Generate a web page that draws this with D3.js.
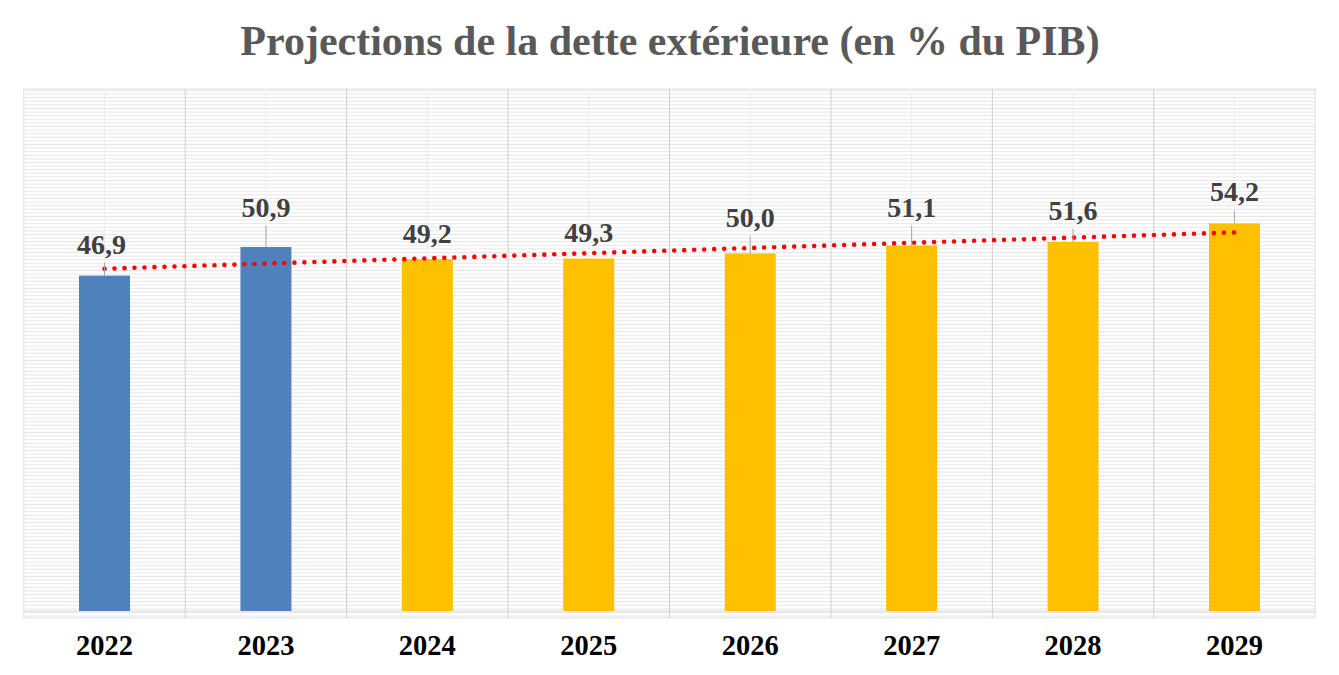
<!DOCTYPE html>
<html>
<head>
<meta charset="utf-8">
<script src="https://cdn.jsdelivr.net/npm/d3@7"></script>
<style>
  body { margin: 0; background: #fff; }
  svg { display: block; }
</style>
</head>
<body>
<svg width="1339" height="675"></svg>
<script>
// donnees
var annees = ["2022", "2023", "2024", "2025", "2026", "2027", "2028", "2029"];
var dette = [46.9, 50.9, 49.2, 49.3, 50.0, 51.1, 51.6, 54.2];
var couleurs = ["#4F81BD", "#4F81BD", "#FFC000", "#FFC000", "#FFC000", "#FFC000", "#FFC000", "#FFC000"];
var titre = "Projections de la dette extérieure (en % du PIB)";

function dessiner() {
  var svg = d3.select("svg"),
      left = 23.8, right = 1315.2, top = 89, base = 611, bottom = 618;

  // ecart (px) entre le haut de la barre et la ligne de base de l'etiquette
  var ecartEtiquette = [22, 30, 16, 16, 26, 29, 22, 22];

  var x = d3.scaleBand().domain(annees).range([left, right]).paddingInner(0).paddingOuter(0);
  var y = d3.scaleLinear().domain([0, 73]).range([base, top]);
  var barW = x.bandwidth() * 0.316;
  var cx = function(d) { return x(d) + x.bandwidth() / 2; };

  // fond hachure horizontal
  var pat = svg.append("defs").append("pattern")
      .attr("id", "hachure")
      .attr("patternUnits", "userSpaceOnUse")
      .attr("width", 8).attr("height", 3.6);
  pat.append("rect").attr("width", 8).attr("height", 3.6).attr("fill", "#fff");
  pat.append("rect").attr("y", 0).attr("width", 8).attr("height", 1).attr("fill", "#e6e6e6");

  svg.append("rect")
      .attr("x", left).attr("y", top)
      .attr("width", right - left).attr("height", bottom - top)
      .attr("fill", "url(#hachure)")
      .attr("stroke", "#e0e0e0");

  var g = svg.append("g");

  // lignes verticales faibles au centre des categories
  g.selectAll("line.centre").data(annees).enter().append("line")
      .attr("class", "centre")
      .attr("x1", cx).attr("x2", cx)
      .attr("y1", top + 6).attr("y2", base)
      .attr("stroke", "#ececec");

  // lignes verticales entre categories
  var bornes = annees.map(function(d) { return x(d); }).slice(1);
  g.selectAll("line.borne").data(bornes).enter().append("line")
      .attr("class", "borne")
      .attr("x1", function(d) { return d; }).attr("x2", function(d) { return d; })
      .attr("y1", top).attr("y2", bottom)
      .attr("stroke", "#d0d0d0");

  // axe horizontal
  g.append("line")
      .attr("x1", left).attr("x2", right)
      .attr("y1", base).attr("y2", base)
      .attr("stroke", "#d6d6d6");

  // barres
  g.selectAll("rect.barre").data(annees).enter().append("rect")
      .attr("class", "barre")
      .attr("x", function(d) { return cx(d) - barW / 2; })
      .attr("width", barW)
      .attr("y", function(d, i) { return y(dette[i]); })
      .attr("height", function(d, i) { return base - y(dette[i]); })
      .attr("fill", function(d, i) { return couleurs[i]; });

  // courbe de tendance lineaire
  var n = dette.length,
      mx = d3.mean(dette, function(d, i) { return i; }),
      my = d3.mean(dette),
      sxy = d3.sum(dette, function(d, i) { return (i - mx) * (d - my); }),
      sxx = d3.sum(dette, function(d, i) { return (i - mx) * (i - mx); }),
      pente = sxy / sxx,
      orig = my - pente * mx;
  var tendance = [0, n - 1].map(function(i) { return [cx(annees[i]), y(orig + pente * i)]; });
  g.append("path")
      .attr("d", d3.line()(tendance))
      .attr("fill", "none")
      .attr("stroke", "#FF0000")
      .attr("stroke-width", 4.6)
      .attr("stroke-linecap", "round")
      .attr("stroke-dasharray", "0 10");

  // traits de rappel
  g.selectAll("line.rappel").data(annees).enter()
      .filter(function(d, i) { return ecartEtiquette[i] > 18; })
      .append("line")
      .attr("class", "rappel")
      .attr("x1", cx).attr("x2", cx)
      .attr("y1", function(d) { var i = annees.indexOf(d); return y(dette[i]) - ecartEtiquette[i] + 9; })
      .attr("y2", function(d) { return y(dette[annees.indexOf(d)]); })
      .attr("stroke", "#a6a6a6");

  // etiquettes de valeur
  g.selectAll("text.valeur").data(annees).enter().append("text")
      .attr("class", "valeur")
      .attr("x", function(d, i) { return cx(d) - (i === 0 ? 3 : 0); })
      .attr("y", function(d, i) { return y(dette[i]) - ecartEtiquette[i]; })
      .attr("text-anchor", "middle")
      .attr("font-family", "'Liberation Serif', 'Times New Roman', serif")
      .attr("font-weight", "bold")
      .attr("font-size", 28)
      .attr("fill", "#404040")
      .text(function(d, i) { return d3.format(".1f")(dette[i]).replace(".", ","); });

  // etiquettes des annees
  var axe = g.append("g")
      .attr("transform", "translate(0," + base + ")")
      .call(d3.axisBottom(x).tickSize(0).tickPadding(0));
  axe.select(".domain").remove();
  axe.selectAll("text")
      .attr("y", 44)
      .attr("dy", null)
      .attr("font-family", "'Liberation Serif', 'Times New Roman', serif")
      .attr("font-weight", "bold")
      .attr("font-size", 28.5)
      .attr("fill", "#000");

  // titre
  svg.append("text")
      .attr("x", 670).attr("y", 55)
      .attr("text-anchor", "middle")
      .attr("font-family", "'Liberation Serif', 'Times New Roman', serif")
      .attr("font-weight", "bold")
      .attr("font-size", 42)
      .attr("fill", "#595959")
      .text(titre);
}
dessiner();
</script>
</body>
</html>
